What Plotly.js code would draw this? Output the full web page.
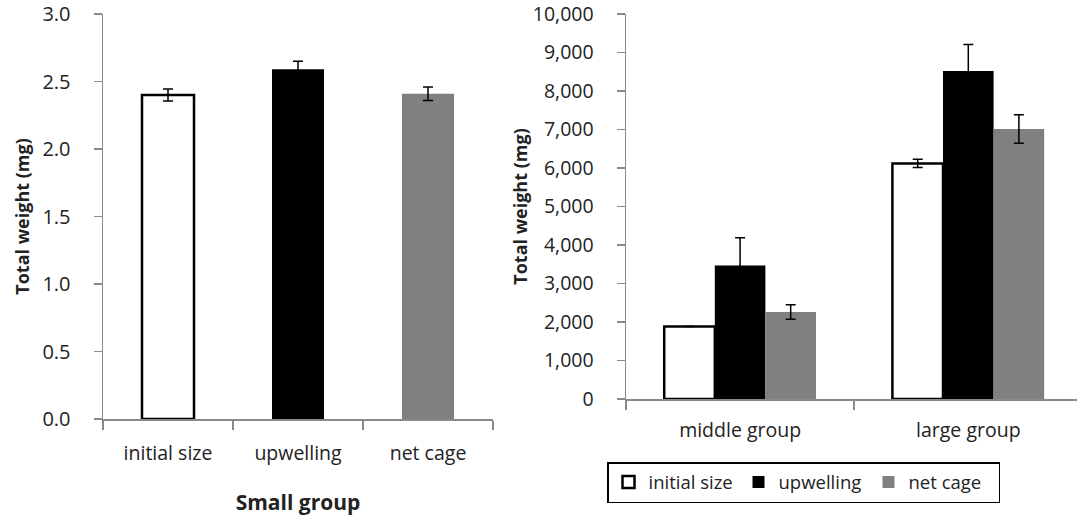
<!DOCTYPE html>
<html>
<head>
<meta charset="utf-8">
<script src="https://cdn.plot.ly/plotly-3.0.1.min.js"></script>
<style>html,body{margin:0;padding:0;background:#fff;}#chart{width:1077px;height:517px;}</style>
</head>
<body>
<div id="chart"></div>
<script>
// Small group (left panel)
var smallCategories = ["initial size", "upwelling", "net cage"];
var smallValues = [2.40, 2.59, 2.41];
var smallErrors = [0.045, 0.06, 0.05];

// Middle / large groups (right panel)
var groupCategories = ["middle group", "large group"];
var seriesNames = ["initial size", "upwelling", "net cage"];
var initialValues = [1880, 6120];
var initialErrors = [0, 110];
var upwellingValues = [3470, 8520];
var upwellingErrors = [720, 690];
var netCageValues = [2260, 7010];
var netCageErrors = [190, 370];

var leftTicks = [0, 0.5, 1.0, 1.5, 2.0, 2.5, 3.0];
var rightTicks = [0, 1000, 2000, 3000, 4000, 5000, 6000, 7000, 8000, 9000, 10000];

var W = 1077, H = 517;
var FONT = "'Open Sans', sans-serif";
var axisGray = "#8a8a8a";
var textCol = "#222";

var fills = ["#ffffff", "#000000", "#808080"];
var lineW = [2.5, 0, 0];

// group positions on the right panel's axis (index of each category)
var groupPos = groupCategories.map(function (c, i) { return i; });
var groupBounds = [-0.5, 0.5];

var traces = [];
traces.push({
  type: "bar", x: smallCategories, y: smallValues, xaxis: "x", yaxis: "y",
  width: 0.4, showlegend: false,
  marker: {color: fills, line: {color: "#000", width: lineW}},
  error_y: {type: "data", array: smallErrors, visible: true, color: "#000", thickness: 1.5, width: 5},
  hoverinfo: "x+y"
});
var rv = [initialValues, upwellingValues, netCageValues];
var re = [initialErrors, upwellingErrors, netCageErrors];
for (var i = 0; i < 3; i++) {
  traces.push({
    type: "bar", name: seriesNames[i], x: groupPos, y: rv[i], xaxis: "x2", yaxis: "y2",
    marker: {color: fills[i], line: {color: "#000", width: lineW[i]}},
    error_y: {type: "data", array: re[i], visible: true, color: "#000", thickness: 1.5, width: 5}
  });
}

var catW = 228.2;
var layout = {
  width: W, height: H,
  margin: {l: 0, r: 0, t: 0, b: 0},
  paper_bgcolor: "#fff", plot_bgcolor: "#fff",
  font: {family: FONT, color: textCol, size: 19},
  barmode: "group", bargap: 0.335, bargroupgap: 0,
  showlegend: true,
  legend: {
    orientation: "h", x: 607 / W, y: 1 - 462 / H, xanchor: "left", yanchor: "top",
    bordercolor: "#000", borderwidth: 1.5, font: {size: 18.5, family: FONT, color: textCol},
    itemwidth: 30, traceorder: "normal", entrywidth: 85
  },
  xaxis: {
    domain: [103 / W, 493 / W], anchor: "y",
    showline: true, linecolor: axisGray, linewidth: 1.5,
    ticks: "outside", tickson: "boundaries", ticklen: 9, tickcolor: axisGray, tickwidth: 1.5,
    tickfont: {size: 19.5, family: FONT, color: textCol}, ticklabelstandoff: 16,
    showgrid: false, zeroline: false, automargin: false,
    title: {text: "<b>Small group</b>", font: {size: 21, family: FONT, color: textCol}, standoff: 30}
  },
  yaxis: {
    domain: [1 - 419 / H, 1 - 14 / H], anchor: "x",
    range: [0, 3], tickvals: leftTicks, tickformat: ".1f",
    showline: true, linecolor: axisGray, linewidth: 1.5,
    ticks: "outside", ticklen: 8, tickcolor: axisGray, tickwidth: 1.5,
    tickfont: {size: 20, family: FONT, color: textCol}, ticklabelstandoff: 19,
    ticklabeloverflow: "allow",
    showgrid: false, zeroline: false, automargin: false,
    title: {text: "<b>Total weight (mg)</b>", font: {size: 18, family: FONT, color: textCol}, standoff: 8}
  },
  xaxis2: {
    type: "linear",
    domain: [626 / W, 1], anchor: "y2",
    range: [-0.5, -0.5 + (W - 626) / catW],
    tickvals: groupPos, ticktext: groupCategories, ticks: "",
    minor: {tickmode: "array", tickvals: groupBounds, ticks: "outside", ticklen: 9, tickcolor: axisGray, tickwidth: 1.5, showgrid: false},
    showline: true, linecolor: axisGray, linewidth: 1.5,
    tickfont: {size: 19.5, family: FONT, color: textCol}, ticklabelstandoff: 13,
    showgrid: false, zeroline: false, automargin: false
  },
  yaxis2: {
    domain: [1 - 399 / H, 1 - 14 / H], anchor: "x2",
    range: [0, 10000], tickvals: rightTicks, tickformat: ",",
    showline: true, linecolor: axisGray, linewidth: 1.5,
    ticks: "outside", ticklen: 8, tickcolor: axisGray, tickwidth: 1.5,
    tickfont: {size: 19.5, family: FONT, color: textCol}, ticklabelstandoff: 19,
    ticklabeloverflow: "allow",
    showgrid: false, zeroline: false, automargin: false,
    title: {text: "<b>Total weight (mg)</b>", font: {size: 18, family: FONT, color: textCol}, standoff: 0}
  }
};

Plotly.newPlot("chart", traces, layout, {staticPlot: true, displayModeBar: false});
</script>
</body>
</html>
